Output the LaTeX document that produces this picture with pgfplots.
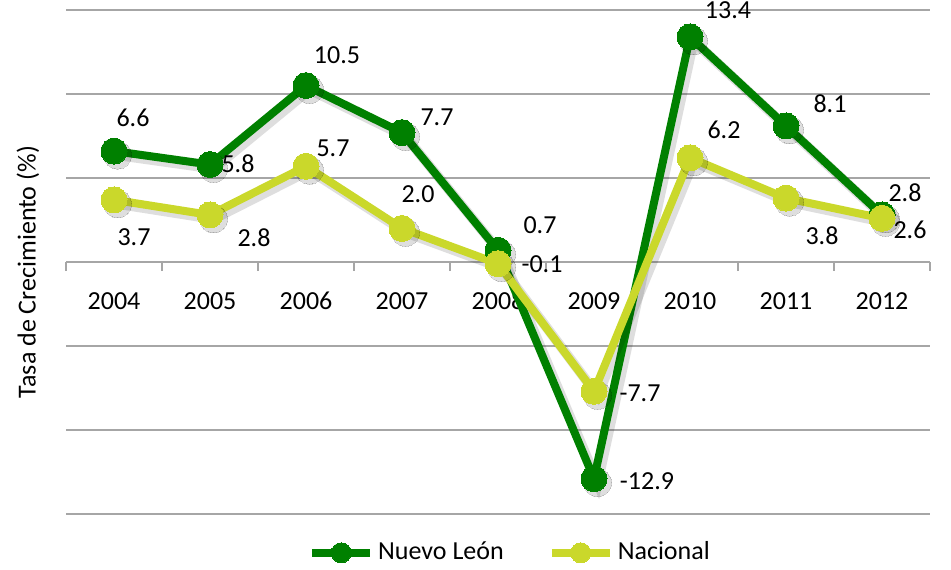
\documentclass[border=0pt]{standalone}
\usepackage{fontspec}
\setmainfont{Carlito}
\usepackage{pgfplots}
\usepackage{pgfplotstable}
\pgfplotsset{compat=1.18}
\definecolor{nlgreen}{HTML}{008000}
\definecolor{nacyel}{HTML}{CAD82B}
\definecolor{gridgray}{HTML}{A6A6A6}

\pgfplotstableread{
x y dx dy lab
0 6.6 19 33 6.6
1 5.8 28 1 5.8
2 10.5 31 30 10.5
3 7.7 35 15 7.7
4 0.7 42 25 0.7
5 -12.9 53 -2 -12.9
6 13.4 38 27 13.4
7 8.1 44 22 8.1
8 2.8 23 22 2.8
}\nuevoleon

\pgfplotstableread{
x y dx dy lab
0 3.7 20 -37 3.7
1 2.8 44 -23 2.8
2 5.7 27 18 5.7
3 2.0 16 34 2.0
4 -0.1 44 0 -0.1
5 -7.7 46 -2 -7.7
6 6.2 34 28 6.2
7 3.8 36 -38 3.8
8 2.6 28 -11 2.6
}\nacional

\begin{document}
\fontsize{13pt}{15pt}\selectfont
\begin{tikzpicture}
\begin{axis}[
  scale only axis,
  width=432pt, height=252pt,
  xmin=-0.5, xmax=8.5,
  ymin=-15, ymax=15,
  clip=false,
  axis x line=middle,
  axis y line=left,
  hide obscured x ticks=false,
  x axis line style={-, draw=gridgray, line width=1.25pt},
  y axis line style={draw=none},
  xtick={-0.5,0.5,...,8.5},
  x tick label as interval,
  xticklabels={2004,2005,2006,2007,2008,2009,2010,2011,2012},
  xticklabel style={yshift=-5.8pt, text height=9pt, text depth=0pt,
     font=\fontsize{13pt}{15pt}\selectfont},
  xtick align=outside,
  major x tick style={draw=gridgray, line width=1.25pt},
  major tick length=4.5pt,
  ytick={-15,-10,...,15},
  yticklabels={},
  major y tick style={draw=none},
  ymajorgrids,
  major grid style={draw=gridgray, line width=1.25pt},
  ylabel={Tasa de Crecimiento (\%)},
  ylabel style={at={(axis description cs:-0.044,0.48)}, anchor=center,
     font=\fontsize{13pt}{15pt}\selectfont},
  /pgf/number format/assume math mode=true,
  point meta=explicit symbolic,
  visualization depends on={\thisrow{dx}\as\ddx},
  visualization depends on={\thisrow{dy}\as\ddy},
  nodes near coords style={anchor=center, xshift=0.5*\ddx pt, yshift=0.5*\ddy pt,
     text=black, font=\fontsize{13pt}{15pt}\selectfont},
  legend style={at={(axis description cs:0.515,-0.077)}, anchor=center,
     draw=none, fill=none, legend columns=2,
     font=\fontsize{13pt}{15pt}\selectfont,
     /tikz/every even column/.append style={column sep=20pt}},
  legend image code/.code={%
     \draw[mark repeat=2,mark phase=2,#1, line width=4pt, mark size=5pt]
        plot coordinates {(0pt,0pt) (14.5pt,0pt) (29pt,0pt)};},
  shadow/.style={black, opacity=0.13, line width=5pt, mark=*, mark size=7pt,
     mark options={fill=black, draw=black, line width=0pt},
     xshift=1.8pt, yshift=-2pt, forget plot},
]
\addplot[shadow] table[x=x, y=y, meta=lab] {\nuevoleon};
\addplot[nlgreen, line width=4pt, mark=*, mark size=6.5pt,
   mark options={fill=nlgreen, draw=nlgreen, line width=0pt},
   nodes near coords={\pgfplotspointmeta}]
   table[x=x, y=y, meta=lab] {\nuevoleon};
\addlegendentry{Nuevo León}
\addplot[shadow] table[x=x, y=y, meta=lab] {\nacional};
\addplot[nacyel, line width=4pt, mark=*, mark size=6.5pt,
   mark options={fill=nacyel, draw=nacyel, line width=0pt},
   nodes near coords={\pgfplotspointmeta}]
   table[x=x, y=y, meta=lab] {\nacional};
\addlegendentry{Nacional}
\end{axis}
\pgfresetboundingbox
\path[use as bounding box] (-33pt,-27.5pt) rectangle (442.5pt,257pt);
\end{tikzpicture}
\end{document}
